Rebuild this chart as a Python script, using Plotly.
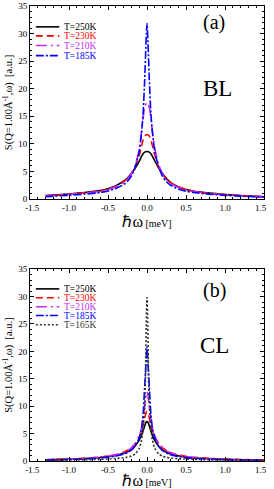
import plotly.graph_objects as go
from plotly.subplots import make_subplots

# ---------------- data: panel (a) BL ----------------
bl_x = [-1.3, -1.2, -1.0, -0.8, -0.6, -0.5, -0.4, -0.3, -0.25, -0.2, -0.15, -0.1,
        -0.07, -0.05, -0.03, 0.0, 0.03, 0.05, 0.07, 0.1, 0.15, 0.2, 0.25, 0.3,
        0.4, 0.5, 0.6, 0.8, 1.0, 1.2, 1.5]
bl_250 = [0.6, 0.7, 0.9, 1.15, 1.5, 1.85, 2.4, 3.2, 3.8, 4.6, 5.6, 6.8,
          7.7, 8.2, 8.5, 8.6, 8.5, 8.2, 7.7, 6.9, 5.6, 4.6, 3.7, 3.0,
          2.2, 1.7, 1.4, 1.05, 0.8, 0.6, 0.4]
bl_230 = [0.55, 0.65, 0.85, 1.1, 1.45, 1.8, 2.3, 3.1, 3.7, 4.6, 5.9, 7.8,
          9.6, 10.7, 11.4, 11.7, 11.4, 10.7, 9.6, 7.9, 5.8, 4.5, 3.6, 2.95,
          2.2, 1.7, 1.4, 1.0, 0.78, 0.6, 0.4]
bl_210 = [0.5, 0.6, 0.8, 1.05, 1.4, 1.7, 2.2, 3.0, 3.6, 4.6, 6.2, 9.0,
          12.2, 14.6, 16.6, 17.5, 16.6, 14.6, 12.2, 9.2, 6.2, 4.5, 3.5, 2.85,
          2.1, 1.65, 1.35, 0.98, 0.75, 0.58, 0.38]
bl_185 = [0.4, 0.5, 0.65, 0.85, 1.15, 1.45, 1.9, 2.6, 3.2, 4.2, 5.8, 8.6,
          12.0, 15.5, 21.5, 31.8, 21.5, 15.5, 12.0, 8.6, 5.8, 4.1, 3.1, 2.5,
          1.8, 1.4, 1.15, 0.85, 0.65, 0.5, 0.35]

# ---------------- data: panel (b) CL ----------------
cl_x = [-1.3, -1.2, -1.0, -0.8, -0.6, -0.5, -0.4, -0.3, -0.25, -0.2, -0.15, -0.1,
        -0.07, -0.05, -0.03, -0.02, -0.01, 0.0, 0.01, 0.02, 0.03, 0.05, 0.07, 0.1,
        0.15, 0.2, 0.25, 0.3, 0.4, 0.5, 0.6, 0.8, 1.0, 1.2, 1.5]
cl_250 = [0.2, 0.25, 0.35, 0.45, 0.65, 0.8, 1.0, 1.4, 1.7, 2.1, 2.8, 3.8,
          4.7, 5.5, 6.4, 6.8, 7.1, 7.2, 7.1, 6.8, 6.4, 5.5, 4.6, 3.7,
          2.7, 2.0, 1.6, 1.3, 0.95, 0.7, 0.55, 0.4, 0.3, 0.22, 0.15]
cl_230 = [0.22, 0.27, 0.38, 0.5, 0.72, 0.9, 1.15, 1.6, 1.95, 2.4, 3.2, 4.4,
          5.6, 6.6, 7.8, 8.4, 8.85, 9.0, 8.85, 8.4, 7.8, 6.6, 5.6, 4.4,
          3.2, 2.4, 1.9, 1.55, 1.1, 0.85, 0.68, 0.48, 0.35, 0.27, 0.18]
cl_210 = [0.2, 0.25, 0.35, 0.48, 0.7, 0.88, 1.12, 1.55, 1.9, 2.4, 3.2, 4.6,
          6.0, 7.6, 9.8, 11.1, 12.1, 12.6, 12.1, 11.1, 9.8, 7.6, 6.0, 4.6,
          3.1, 2.3, 1.85, 1.5, 1.08, 0.82, 0.65, 0.45, 0.33, 0.25, 0.17]
cl_185 = [0.15, 0.2, 0.28, 0.38, 0.55, 0.7, 0.9, 1.25, 1.55, 2.0, 2.8, 4.2,
          5.9, 8.5, 13.5, 16.0, 18.5, 20.8, 18.5, 16.0, 13.5, 8.5, 5.9, 4.2,
          2.7, 1.9, 1.45, 1.15, 0.82, 0.62, 0.5, 0.35, 0.25, 0.2, 0.13]
cl_165 = [0.1, 0.12, 0.17, 0.22, 0.3, 0.36, 0.45, 0.6, 0.72, 0.9, 1.3, 2.3,
          3.8, 6.0, 10.0, 15.0, 24.5, 29.8, 24.5, 15.0, 10.0, 6.0, 3.8, 2.3,
          1.3, 0.85, 0.65, 0.55, 0.42, 0.35, 0.3, 0.22, 0.17, 0.13, 0.1]

labels_bl = ["T=250K", "T=230K", "T=210K", "T=185K"]
labels_cl = ["T=250K", "T=230K", "T=210K", "T=185K", "T=165K"]

x_tickvals = [-1.5, -1.0, -0.5, 0.0, 0.5, 1.0, 1.5]
x_ticktext = ["\u00a0\u00a0-1.5", "-1.0", "-0.5", "0.0", "0.5", "1.0", "1.5\u00a0\u00a0\u00a0"]

colors = ["#000000", "#ff0000", "#c42cf5", "#0000ff", "#333333"]
dashes = ["solid", "7px,4px", "11px,4px,2px,4px", "8px,2px,2px,2px", "2px,2px"]

FONT = "Liberation Serif"

fig = make_subplots(rows=2, cols=1, vertical_spacing=0.0)
fig.update_layout(
    width=274, height=489,
    margin=dict(l=30, r=1, t=3, b=26),
    paper_bgcolor="white", plot_bgcolor="white",
    showlegend=False,
    font=dict(family=FONT, size=9, color="black"),
    yaxis=dict(domain=[0.576, 1.0]),
    yaxis2=dict(domain=[0.0, 0.4217]),
)

for i, ys in enumerate([bl_250, bl_230, bl_210, bl_185]):
    fig.add_trace(go.Scatter(x=bl_x, y=ys, mode="lines", name=labels_bl[i],
                             line=dict(color=colors[i], width=1.6, dash=dashes[i],
                                       shape="spline", smoothing=0.6)),
                  row=1, col=1)
for i, ys in enumerate([cl_250, cl_230, cl_210, cl_185, cl_165]):
    fig.add_trace(go.Scatter(x=cl_x, y=ys, mode="lines", name=labels_cl[i],
                             line=dict(color=colors[i], width=1.6, dash=dashes[i],
                                       shape="spline", smoothing=0.6)),
                  row=2, col=1)

xtitle = '<span style="font-size:16px">ℏω</span> [meV]'
ytitle = "S(Q=1.00Å<sup>-1</sup>,ω)  [a.u.]"
for r in (1, 2):
    fig.update_xaxes(range=[-1.5, 1.5], tickmode="array", tickvals=x_tickvals,
                     ticktext=x_ticktext, ticklabeloverflow="allow",
                     ticks="inside", ticklen=4, tickcolor="black",
                     minor=dict(dtick=0.1, tick0=0, ticks="inside", ticklen=2, tickcolor="black"),
                     showline=True, linecolor="black", linewidth=1, mirror="allticks",
                     showgrid=False, zeroline=False,
                     tickfont=dict(family=FONT, size=9),
                     title=dict(text=xtitle, font=dict(family=FONT, size=10), standoff=6),
                     row=r, col=1)
    fig.update_yaxes(range=[0, 35], dtick=5, tick0=0,
                     ticks="inside", ticklen=4, tickcolor="black",
                     minor=dict(dtick=1, ticks="inside", ticklen=2, tickcolor="black"),
                     showline=True, linecolor="black", linewidth=1, mirror="allticks",
                     showgrid=False, zeroline=False,
                     tickfont=dict(family=FONT, size=9),
                     title=dict(text=ytitle, font=dict(family=FONT, size=10.5), standoff=3),
                     row=r, col=1)

# panel labels
def add_text(txt, x, y, xref, yref, size, color="black", xanchor="center"):
    fig.add_annotation(text=txt, x=x, y=y, xref=xref, yref=yref, showarrow=False,
                       xanchor=xanchor, yanchor="middle",
                       font=dict(family=FONT, size=size, color=color))

add_text("(a)", 0.785, 0.915, "x domain", "y domain", 20)
add_text("BL", 0.80, 0.57, "x domain", "y domain", 23)
add_text("(b)", 0.79, 0.89, "x2 domain", "y2 domain", 20)
add_text("CL", 0.79, 0.60, "x2 domain", "y2 domain", 23)

# hand-drawn legends (sample lines + coloured labels)
def legend(xref, yref, labels, rows_y):
    for i, lab in enumerate(labels):
        yy = rows_y[i]
        fig.add_shape(type="line", xref=xref, yref=yref, x0=0.025, x1=0.125, y0=yy, y1=yy,
                      line=dict(color=colors[i], width=1.6, dash=dashes[i]))
        add_text(lab, 0.135, yy, xref, yref, 9.5, color=colors[i], xanchor="left")

legend("x domain", "y domain", labels_bl, [0.892, 0.845, 0.795, 0.743])
legend("x2 domain", "y2 domain", labels_cl, [0.897, 0.851, 0.804, 0.758, 0.71])

fig.write_html("out.html", config={"displayModeBar": False},
               post_script="document.body.style.margin='0';")
